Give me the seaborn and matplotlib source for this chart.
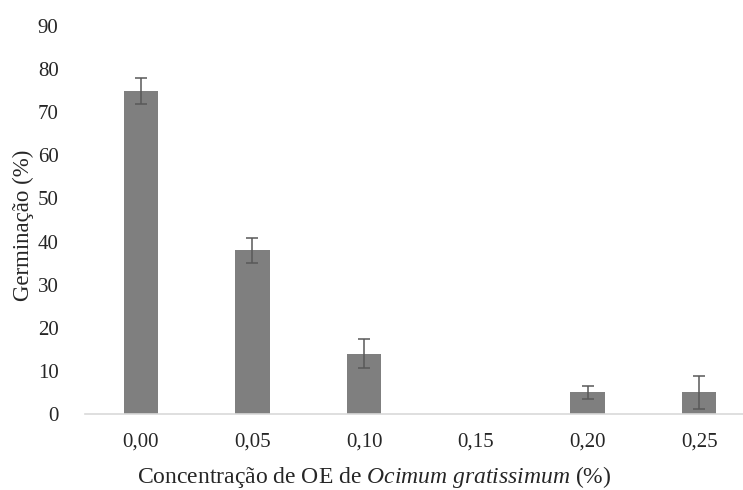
import matplotlib
matplotlib.use('Agg')
import matplotlib.pyplot as plt
import seaborn as sns
import pandas as pd

# data
concentracoes = ['0,00', '0,05', '0,10', '0,15', '0,20', '0,25']
germinacao = [75, 38, 14, 0, 5, 5]
erro = [3.0, 2.9, 3.4, 0, 1.6, 3.8]

df = pd.DataFrame({'conc': concentracoes, 'germ': germinacao, 'erro': erro})

sns.set_style('white')
plt.rcParams['font.family'] = ['Liberation Serif', 'DejaVu Serif']
plt.rcParams['mathtext.fontset'] = 'custom'
plt.rcParams['mathtext.rm'] = 'Liberation Serif'
plt.rcParams['mathtext.it'] = 'Liberation Serif:italic'

fig = plt.figure(figsize=(7.43, 4.9), dpi=100)
ax = fig.add_axes([85/743, 76/490, 670/743, 388/490])

sns.barplot(data=df, x='conc', y='germ', color='#7f7f7f', saturation=1,
            width=0.31, ax=ax, errorbar=None, linewidth=0)

# no error bar where germination is zero
com_erro = df[df['erro'] > 0]
ax.errorbar(com_erro.index, com_erro['germ'], yerr=com_erro['erro'], fmt='none',
            ecolor='#595959', elinewidth=1.1, capsize=4, capthick=1.1)

ax.set_ylim(0, 90)
ax.set_yticks(range(0, 91, 10))
ax.set_xlim(-0.5, 5.5)

for s in ['top', 'right', 'left']:
    ax.spines[s].set_visible(False)
ax.spines['bottom'].set_color('#d9d9d9')
ax.spines['bottom'].set_linewidth(1.2)

ax.tick_params(axis='y', length=0, pad=19, labelsize=15)
ax.tick_params(axis='x', length=0, pad=13, labelsize=15)

ax.set_ylabel('Germinação (%)', fontsize=16.5)
ax.yaxis.set_label_coords(-(85 - 23) / 670, (414 - 225) / 388)
ax.set_xlabel(r'Concentração de OE de $\mathit{Ocimum\ gratissimum}$ (%)',
              fontsize=17)
ax.xaxis.set_label_coords((374 - 85) / 670, -(477 - 414) / 388)
ax.xaxis.label.set_va('center')
ax.yaxis.label.set_va('center')

fig.savefig('out.png', dpi=100)
